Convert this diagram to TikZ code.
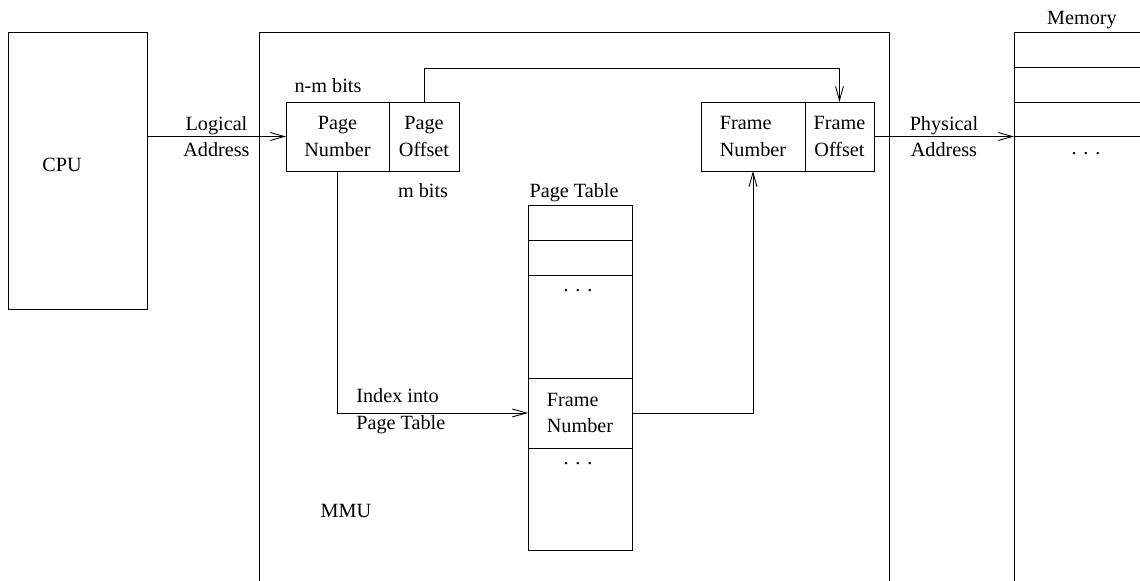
\documentclass[tikz,border=0pt]{standalone}
\usepackage{fontspec}
\setmainfont{Liberation Serif}
\usetikzlibrary{positioning,arrows.meta}

\tikzset{
box/.style={draw,line width=.5pt,inner sep=0pt,outer sep=0pt,anchor=north west},
arr/.style={line width=.5pt,-{Straight Barb[length=8pt,width=4.5pt]}},
txt/.style={inner sep=0pt,anchor=base}
}

\begin{document}
\begin{tikzpicture}[x=.02cm,y=-.02cm,font=\fontsize{11.5}{15}\selectfont]
\useasboundingbox (0,0) rectangle (1140,581);
\clip (0,0) rectangle (1140,581);
% cpu, mmu, memory
\node[box,minimum width=2.78cm,minimum height=5.54cm] (cpu) at (8,32) {};
\node[txt] (cpulabel) at (62,172) {CPU};
\node[box,minimum width=12.62cm,minimum height=12cm] (mmu) at (259,32) {};
\node[txt] (mmulabel) at (346,517) {MMU};
\node[txt] (memlabel) at (1082,25) {Memory};
\node[box,minimum width=3cm,minimum height=.7cm] (mem1) at (1014,32) {};
\node[box,minimum width=3cm,minimum height=.7cm,below=0pt of mem1] (mem2) {};
\node[box,minimum width=3cm,minimum height=.68cm,below=0pt of mem2] (mem3) {};
\node[box,minimum width=3cm,minimum height=10cm,below=0pt of mem3] (mem4) {};
\node[txt] (memdots) at (1086,154) {. . .};
% logical address
\node[box,minimum width=2.06cm,minimum height=1.38cm,align=center] (pnum) at (286,102) {Page\\Number};
\node[box,minimum width=1.4cm,minimum height=1.38cm,align=center,right=0pt of pnum] (poff) {Page\\Offset};
\node[txt] (nmbits) at (328,93) {n-m bits};
\node[txt] (mbits) at (423,197) {m bits};
% physical address
\node[box,minimum width=2.08cm,minimum height=1.38cm,align=left] (fnum) at (701,102) {Frame\\Number};
\node[box,minimum width=1.38cm,minimum height=1.38cm,align=center,right=0pt of fnum] (foff) {Frame\\Offset};
% page table
\node[txt] (ptlabel) at (574,197) {Page Table};
\node[box,minimum width=2.08cm,minimum height=.7cm] (pt1) at (528,205) {};
\node[box,minimum width=2.08cm,minimum height=.7cm,below=0pt of pt1] (pt2) {};
\node[box,minimum width=2.08cm,minimum height=2.06cm,below=0pt of pt2] (pt3) {};
\node[box,minimum width=2.08cm,minimum height=1.4cm,align=left,below=0pt of pt3] (pt4) {Frame\\Number};
\node[box,minimum width=2.08cm,minimum height=2.06cm,below=0pt of pt4] (pt5) {};
\node[txt] (ptdots1) at (578,291) {. . .};
\node[txt] (ptdots2) at (578,464) {. . .};
\node[anchor=west,align=left,inner sep=0pt] (idx) at (356,411) {Index into\\Page Table};
% connectors
\draw[arr] (pnum.west -| cpu.east) -- node[align=center,inner sep=0pt]{Logical\\Address} (pnum.west);
\draw[arr] (foff.east) -- node[align=center,inner sep=0pt]{Physical\\Address} (foff.east -| mem4.west);
\draw[arr] (poff.north) -- ++(0,-34) -| (foff.north);
\draw[arr] (pnum.south) |- (pt4.west);
\draw[arr] (pt4.east) -| (fnum.south);
\end{tikzpicture}
\end{document}
